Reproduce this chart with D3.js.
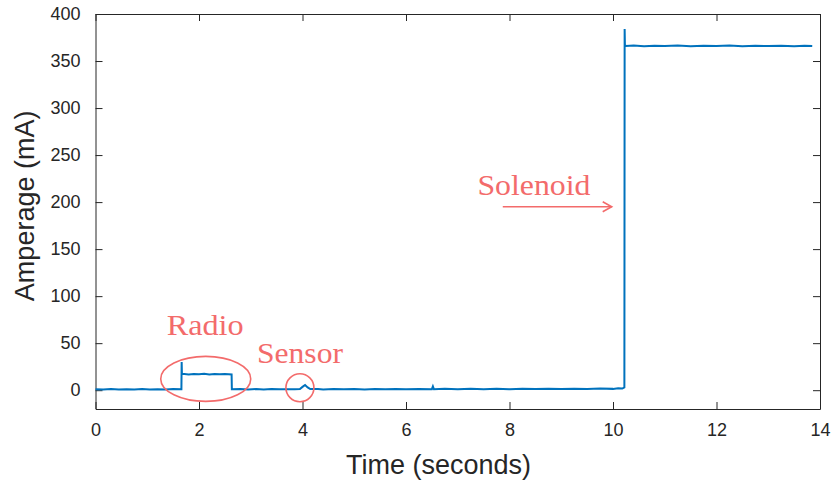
<!DOCTYPE html>
<html>
<head>
<meta charset="utf-8">
<script src="https://cdn.jsdelivr.net/npm/d3@7"></script>
<style>
  body { margin: 0; background: #fff; }
  svg text { fill: #262626; }
</style>
</head>
<body>
<div id="chart"></div>
<script>
// Current trace (time in s, amperage in mA)
const times = [0, 0.15, 0.3, 0.45, 0.6, 0.75, 0.9, 1.05, 1.2, 1.35, 1.5, 1.66, 1.665, 1.67, 1.68, 1.8, 1.9, 2.0, 2.1, 2.2, 2.3,
  2.4, 2.5, 2.63, 2.635, 2.8, 2.95, 3.1, 3.25, 3.4, 3.55, 3.7, 3.85, 3.95, 4.0, 4.05, 4.1, 4.15, 4.3, 4.4, 4.6, 4.8, 5.0,
  5.2, 5.4, 5.6, 5.8, 6.0, 6.25, 6.5, 6.52, 6.54, 6.75, 7.0, 7.25, 7.5, 7.75, 8.0, 8.25, 8.5, 8.75, 9.0, 9.25, 9.5, 9.75,
  10.0, 10.1, 10.18, 10.22, 10.225, 10.23, 10.25, 10.4, 10.6, 10.8, 11.0, 11.25, 11.5, 11.75, 12.0, 12.25, 12.5, 12.75,
  13.0, 13.25, 13.5, 13.7, 13.85];
const amps = [1, 0.7, 1.2, 0.8, 1.1, 0.7, 1.2, 0.8, 1.1, 0.7, 1.2, 1, 30, 17, 17.4, 16.8, 17.3, 16.9, 17.4, 16.8, 17.3,
  16.9, 17.3, 16.8, 1, 1.3, 0.8, 1.2, 0.8, 1.3, 0.9, 1.1, 0.9, 1.3, 3.5, 5.5, 3, 1.2, 1.3, 0.8, 1.2, 0.9, 1.3,
  0.8, 1.2, 0.9, 1.3, 0.9, 1.2, 1.1, 4, 1, 1.4, 1, 1.5, 1.1, 1.5, 1.1, 1.5, 1.2, 1.6, 1.2, 1.6, 1.3, 1.7,
  1.4, 2.0, 1.7, 3, 384, 367, 366, 366.4, 365.8, 366.3, 365.9, 366.4, 365.8, 366.3, 365.9, 366.4, 365.8, 366.3,
  365.9, 366.3, 365.8, 366.2, 366];

const xTicks = [0, 2, 4, 6, 8, 10, 12, 14];
const yTicks = [0, 50, 100, 150, 200, 250, 300, 350, 400];

const W = 831, H = 482;
const margin = { top: 14, right: 11, bottom: 73, left: 95.5 };
const width = W - margin.left - margin.right;
const height = H - margin.top - margin.bottom;

const svg = d3.select("#chart").append("svg")
  .attr("width", W).attr("height", H)
  .style("font-family", "'Liberation Sans', Arial, sans-serif");

const g = svg.append("g").attr("transform", `translate(${margin.left},${margin.top})`);

const x = d3.scaleLinear().domain([0, 14]).range([0, width]);
const y = d3.scaleLinear().domain([-20, 400]).range([height, 0]);

// axes, ticks pointing inward, mirrored on top/right
const tickLen = 7;
g.append("g").attr("transform", `translate(0,${height})`)
  .call(d3.axisBottom(x).tickValues(xTicks).tickSizeInner(-tickLen).tickSizeOuter(0).tickPadding(14))
  .call(a => a.selectAll("text").style("font-size", "18px"));
g.append("g")
  .call(d3.axisTop(x).tickValues(xTicks).tickSizeInner(-tickLen).tickSizeOuter(0).tickFormat(""));
g.append("g")
  .call(d3.axisLeft(y).tickValues(yTicks).tickSizeInner(-tickLen).tickSizeOuter(0).tickPadding(15))
  .call(a => a.selectAll("text").style("font-size", "18px"));
g.append("g").attr("transform", `translate(${width},0)`)
  .call(d3.axisRight(y).tickValues(yTicks).tickSizeInner(-tickLen).tickSizeOuter(0).tickFormat(""));

g.selectAll(".domain").attr("stroke", "#262626");
g.selectAll(".tick line").attr("stroke", "#262626");
g.selectAll(".tick text").attr("fill", "#262626");

// trace
const data = times.map((t, i) => ({ t, a: amps[i] }));
g.append("path").datum(data)
  .attr("fill", "none")
  .attr("stroke", "#0072BD")
  .attr("stroke-width", 2)
  .attr("d", d3.line().x(d => x(d.t)).y(d => y(d.a)));

// axis titles
svg.append("text")
  .attr("x", 438.5).attr("y", 474)
  .attr("text-anchor", "middle")
  .style("font-size", "27px")
  .text("Time (seconds)");
svg.append("text")
  .attr("transform", `translate(34,${margin.top + y(196)}) rotate(-90)`)
  .attr("text-anchor", "middle")
  .style("font-size", "27px")
  .text("Amperage (mA)");

// annotations
const red = "#f36b6b";
const ann = g.append("g").style("font-family", "'Liberation Serif', 'DejaVu Serif', serif");
ann.append("ellipse")
  .attr("cx", x(2.13)).attr("cy", y(12)).attr("rx", 45).attr("ry", 22.5)
  .attr("fill", "none").attr("stroke", red).attr("stroke-width", 1.6);
ann.append("circle")
  .attr("cx", x(3.95)).attr("cy", y(2.6)).attr("r", 14)
  .attr("fill", "none").attr("stroke", red).attr("stroke-width", 1.6);
ann.append("text").attr("x", x(1.376)).attr("y", y(58.7))
  .attr("textLength", 77).attr("lengthAdjust", "spacingAndGlyphs")
  .style("fill", red).style("font-size", "30px").text("Radio");
ann.append("text").attr("x", x(3.12)).attr("y", y(28.9))
  .attr("textLength", 86).attr("lengthAdjust", "spacingAndGlyphs")
  .style("fill", red).style("font-size", "30px").text("Sensor");
ann.append("text").attr("x", x(7.38)).attr("y", y(207.5))
  .attr("textLength", 113).attr("lengthAdjust", "spacingAndGlyphs")
  .style("fill", red).style("font-size", "30px").text("Solenoid");
ann.append("line")
  .attr("x1", x(7.87)).attr("x2", x(9.975)).attr("y1", y(195)).attr("y2", y(195))
  .attr("stroke", red).attr("stroke-width", 1.6);
ann.append("path")
  .attr("d", `M${x(9.975) - 9},${y(195) - 5} L${x(9.975)},${y(195)} L${x(9.975) - 9},${y(195) + 5}`)
  .attr("fill", "none").attr("stroke", red).attr("stroke-width", 1.6);
</script>
</body>
</html>
